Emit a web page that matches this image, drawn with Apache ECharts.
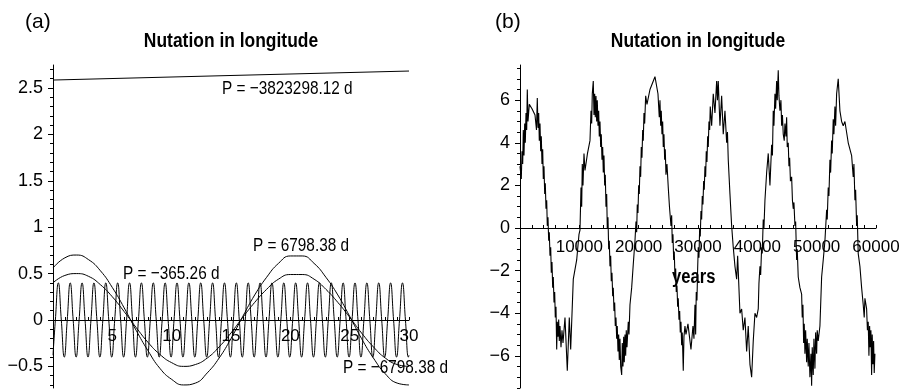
<!DOCTYPE html>
<html><head><meta charset="utf-8">
<script src="https://cdn.jsdelivr.net/npm/echarts@6/dist/echarts.min.js"></script>
<style>html,body{margin:0;padding:0;background:#fff}#c{width:904px;height:390px}</style>
</head><body><div id="c"></div>
<script>
// ---------- Panel (a) data ----------
const slowYears = [0,1,2,3,4,5,6,7,8,9,10,11,12,13,14,15,16,17,18,19,20,21,22,23,24,25,26,27,28,29,30];
const nodalA = [0.56,0.67,0.70,0.65,0.53,0.35,0.13,-0.11,-0.33,-0.52,-0.64,-0.70,-0.68,-0.57,-0.41,-0.20,0.04,0.27,0.46,0.61,0.69,0.69,0.61,0.46,0.27,0.04,-0.20,-0.41,-0.58,-0.68,-0.70];
const nodalB = [0.40,0.48,0.50,0.47,0.38,0.25,0.09,-0.08,-0.24,-0.37,-0.46,-0.50,-0.48,-0.41,-0.29,-0.14,0.03,0.19,0.33,0.44,0.49,0.49,0.44,0.33,0.19,0.03,-0.14,-0.29,-0.41,-0.48,-0.50];
const annualYears = [0,0.2,0.45,0.7,0.95,1.2,1.45,1.7,1.95,2.2,2.45,2.7,2.95,3.2,3.45,3.7,3.95,4.2,4.45,4.7,4.95,5.2,5.45,5.7,5.95,6.2,6.45,6.7,6.95,7.2,7.45,7.7,7.95,8.2,8.45,8.7,8.95,9.2,9.45,9.7,9.95,10.2,10.45,10.7,10.95,11.2,11.45,11.7,11.95,12.2,12.45,12.7,12.95,13.2,13.45,13.7,13.95,14.2,14.45,14.7,14.95,15.2,15.45,15.7,15.95,16.2,16.45,16.7,16.95,17.2,17.45,17.7,17.95,18.2,18.45,18.7,18.95,19.2,19.45,19.7,19.95,20.2,20.45,20.7,20.95,21.2,21.45,21.7,21.95,22.2,22.45,22.7,22.95,23.2,23.45,23.7,23.95,24.2,24.45,24.7,24.95,25.2,25.45,25.7,25.95,26.2,26.45,26.7,26.95,27.2,27.45,27.7,27.95,28.2,28.45,28.7,28.95,29.2,29.45,29.7,29.95,30];
const annualValues = [-0.38,
 0,0.4,0,-0.4, 0,0.4,0,-0.4, 0,0.4,0,-0.4, 0,0.4,0,-0.4, 0,0.4,0,-0.4,
 0,0.4,0,-0.4, 0,0.4,0,-0.4, 0,0.4,0,-0.4, 0,0.4,0,-0.4, 0,0.4,0,-0.4,
 0,0.4,0,-0.4, 0,0.4,0,-0.4, 0,0.4,0,-0.4, 0,0.4,0,-0.4, 0,0.4,0,-0.4,
 0,0.4,0,-0.4, 0,0.4,0,-0.4, 0,0.4,0,-0.4, 0,0.4,0,-0.4, 0,0.4,0,-0.4,
 0,0.4,0,-0.4, 0,0.4,0,-0.4, 0,0.4,0,-0.4, 0,0.4,0,-0.4, 0,0.4,0,-0.4,
 0,0.4,0,-0.4, 0,0.4,0,-0.4, 0,0.4,0,-0.4, 0,0.4,0,-0.4, 0,0.4,0,-0.4,
 -0.38];
const driftYears = [0, 15, 30];
const driftValues = [2.586, 2.635, 2.683];
const leftXTickLabels = [5, 10, 15, 20, 25, 30];
const leftYTickLabels = [-0.5, 0, 0.5, 1, 1.5, 2, 2.5];

// ---------- Panel (b) data ----------
const yrsB = [0,219,337,455,556,674,792,893,1011,1129,
1230,1348,1567,2022,2528,2780,2915,3033,3151,3252,
3370,3488,3589,3707,3825,3926,4044,4162,4263,4381,
4499,4600,4718,4836,4937,5055,5173,5274,5392,5510,
5611,5729,5847,5948,6066,6184,6285,6403,6521,6622,
6740,6909,7077,7246,7583,7970,8307,8543,8981,9554,
9942,10110,10279,10397,10498,10615,10784,10953,11374,11795,
11964,12082,12183,12351,12469,12587,12688,12806,12924,13025,
13143,13261,13362,13480,13598,13699,13817,13935,14036,14154,
14272,14373,14491,14609,14710,14828,14946,15047,15165,15283,
15384,15502,15620,15721,15839,15957,16058,16176,16294,16395,
16513,16631,16732,16850,16968,17137,17238,17356,17474,17575,
17693,17811,17912,18030,18249,18367,18535,18822,19091,19378,
19546,19664,19765,19883,20001,20102,20220,20338,20439,20557,
20675,20776,20894,21012,21180,21400,21905,22748,23253,23472,
23590,23708,23809,23927,24045,24146,24264,24382,24483,24601,
24770,24989,25191,25444,25562,25663,25781,25899,26000,26118,
26236,26337,26455,26573,26674,26792,26910,27011,27129,27247,
27348,27517,27634,27803,27971,28308,28814,29151,29319,29488,
29605,29706,29825,29942,30044,30162,30279,30381,30499,30616,
30718,30836,30953,31055,31173,31290,31392,31510,31627,31729,
31847,31964,32066,32302,32572,32858,33144,33279,33414,33700,
33986,34256,34543,34829,34964,35099,35385,35671,35941,36228,
36514,36682,37070,37356,37626,37913,38199,38468,38755,39041,
39311,39598,39884,40154,40272,40440,40558,40726,40828,40996,
41114,41283,41569,41839,42125,42411,42546,42681,42799,42968,
43085,43254,43355,43524,43642,43810,43979,44096,44231,44366,
44535,44653,44821,44939,45040,45209,45327,45444,45579,45781,
45916,46051,46169,46338,46455,46624,46725,46894,47180,47466,
47568,47686,47803,47905,48023,48140,48309,48410,48579,48697,
48865,49034,49151,49253,49421,49539,49708,49825,49994,50095,
50264,50550,50836,51106,51393,51679,51780,51949,52067,52235,
52353,52521,52623,52791,52909,53078,53195,53364,53634,53920,
54206,54476,54763,55319,55891,56161,56279,56448,56565,56734,
56835,57004,57290,57576,57846,58015,58133,58419,58554,58689,
58807,58924,59026,59144,59261,59363,59481,59598,59700,59818];
const nutB = [2.9,2.3,3.6,3.0,4.6,3.4,4.9,4.0,5.4,4.6,
6.5,5.0,5.8,5.6,5.3,4.6,6.1,4.7,5.4,4.1,
4.9,3.6,4.3,3.0,3.7,2.3,2.9,1.6,2.1,0.9,
1.3,0.1,0.5,-0.6,-0.2,-1.3,-0.9,-2.1,-1.6,-2.8,
-2.3,-3.5,-3.0,-4.2,-3.7,-5.7,-4.4,-5.1,-4.3,-5.3,
-4.6,-5.6,-4.8,-5.4,-4.2,-6.7,-4.2,-5.7,-2.4,-1.5,
-0.3,-0.1,1.9,1.0,3.0,2.0,3.5,2.7,3.5,4.1,
5.5,4.9,6.3,6.9,5.3,6.3,5.2,6.2,5.0,6.0,
4.8,5.5,4.3,5.0,3.8,4.4,3.2,3.8,2.6,3.4,
2.0,2.5,1.0,1.6,0.0,0.5,-1.0,-0.6,-1.8,-1.3,
-2.5,-2.1,-3.2,-2.8,-3.9,-3.5,-4.6,-4.2,-5.2,-4.6,
-5.8,-5.0,-6.2,-5.2,-6.5,-6.9,-5.4,-6.5,-5.1,-6.3,
-5.0,-6.0,-4.8,-5.6,-4.4,-5.0,-3.6,-2.8,-1.7,-0.6,
0.3,-0.2,1.1,0.7,2.0,1.6,2.9,2.4,3.8,3.3,
4.6,4.1,5.4,4.9,6.2,5.8,6.5,7.1,6.3,5.2,
6.0,4.8,5.5,4.4,5.0,3.8,4.4,3.2,3.7,2.5,
3.0,1.9,1.0,0.1,0.6,-0.7,-0.3,-1.5,-1.1,-2.3,
-1.9,-3.0,-2.7,-3.7,-3.3,-4.3,-3.9,-4.9,-4.4,-5.5,
-4.9,-6.7,-5.1,-4.6,-5.0,-4.5,-5.7,-4.6,-5.2,-3.6,
-5.0,-3.0,-3.4,-1.9,-0.9,-1.4,0.0,-0.4,0.8,0.4,
1.5,1.1,2.2,1.8,2.9,2.4,3.6,3.1,4.3,3.8,
5.0,4.6,5.7,4.8,6.3,5.4,6.9,6.0,6.9,4.8,
6.2,4.4,5.5,4.0,4.5,3.2,1.6,0.1,-0.9,-1.8,
-2.4,-1.3,-4.0,-3.8,-4.8,-4.2,-5.8,-4.6,-6.4,-7.0,
-5.3,-4.0,-4.2,-3.8,-2.6,-1.8,-2.2,-0.9,-1.2,0.4,
0.0,1.3,2.6,3.5,2.0,3.9,3.4,5.5,4.8,6.3,
5.6,6.9,6.0,7.4,6.2,5.5,6.0,4.8,5.3,4.4,
4.1,4.9,4.3,5.2,3.8,4.0,2.9,3.3,2.2,2.4,
1.3,0.9,1.2,0.1,0.3,-1.5,-1.0,-2.3,-2.8,-3.1,
-4.2,-3.6,-5.4,-4.5,-5.9,-4.8,-6.3,-5.2,-6.5,-5.4,
-7.0,-5.9,-7.4,-5.6,-6.9,-5.2,-6.6,-4.9,-5.9,-4.8,
-5.3,-4.6,-2.3,-1.5,-0.6,0.85,0.4,1.9,1.5,3.2,
2.6,4.1,3.5,5.1,4.4,5.7,4.8,6.3,7.0,5.5,
5.0,4.8,5.0,4.0,3.4,2.4,3.0,1.3,1.8,0.1,
0.6,-1.2,-1.8,-2.8,-3.6,-4.2,-3.3,-3.8,-4.8,-4.4,
-6.0,-4.6,-5.6,-4.8,-6.9,-5.0,-6.4,-5.3,-6.8,-5.9];
const rightXTickLabels = [10000, 20000, 30000, 40000, 50000, 60000];
const rightYTickLabels = [-6, -4, -2, 0, 2, 4, 6];

if (yrsB.length !== nutB.length) throw new Error('B length mismatch ' + yrsB.length + ' ' + nutB.length);
if (annualYears.length !== annualValues.length) throw new Error('annual mismatch ' + annualYears.length + ' ' + annualValues.length);

const zip = (xs, ys) => xs.map((x, i) => [x, ys[i]]);
const REG = "'Liberation Sans',Arial,sans-serif";
const minus = v => String(v).replace('-', '\u2212');

const leftMinor = []; for (let k = -7; k <= 27; k++) leftMinor.push(k / 10);
const rightMinor = []; for (let k = -15; k <= 15; k++) rightMinor.push(k / 2);
const leftXTicks = []; for (let k = 1; k <= 30; k++) leftXTicks.push(k);
const rightXTicks = []; for (let k = 1; k <= 30; k++) rightXTicks.push(k * 2000);

// grid geometry (pixels)
const GT = 65, GH = 323;
const LY = [-0.733, 2.748], RY = [-7.51, 7.65];
// pixel distance from the grid bottom up to the value 0 of each y axis
const zeroOffset = r => -GH * (-r[0]) / (r[1] - r[0]);

const black = '#000';
function xAx(grid, min, max, ticks, labels, yr, margin) {
  return {
    type: 'value', gridIndex: grid, min, max, position: 'bottom', offset: zeroOffset(yr),
    axisLine: { show: true, onZero: false, lineStyle: { color: black, width: 1 } },
    axisTick: { show: true, inside: true, length: 3, customValues: ticks, lineStyle: { color: black, width: 1 } },
    axisLabel: { show: true, customValues: labels, color: black, fontFamily: REG, fontSize: 17, margin,
      formatter: v => String(v) },
    splitLine: { show: false }
  };
}
function yMain(grid, min, max, labels, margin) {
  return {
    type: 'value', gridIndex: grid, min, max, position: 'left',
    axisLine: { show: true, onZero: false, lineStyle: { color: black, width: 1 } },
    axisTick: { show: true, inside: false, length: 5, customValues: labels, lineStyle: { color: black, width: 1 } },
    axisLabel: { show: true, customValues: labels, color: black, fontFamily: REG, fontSize: 18, margin, formatter: v => minus(v) },
    splitLine: { show: false }
  };
}
function yMinor(grid, min, max, ticks) {
  return {
    type: 'value', gridIndex: grid, min, max, position: 'left', offset: 0,
    axisLine: { show: false, onZero: false },
    axisTick: { show: true, inside: false, length: 3, customValues: ticks, lineStyle: { color: black, width: 1 } },
    axisLabel: { show: false },
    splitLine: { show: false }
  };
}
const lineSeries = (data, xi, yi, smooth, width) => ({
  type: 'line', data, xAxisIndex: xi, yAxisIndex: yi, showSymbol: false, symbol: 'none',
  smooth, lineStyle: { color: black, width }, silent: true, animation: false
});
const txt = (x, y, text, size, weight, align, sx) => ({
  type: 'text', x, y, scaleX: sx || 1,
  style: { text, fill: black, font: `${weight} ${size}px ${REG}`, textAlign: align || 'left', textVerticalAlign: 'middle' }
});

const chart = echarts.init(document.getElementById('c'), null, { renderer: 'canvas' });
chart.setOption({
  animation: false,
  backgroundColor: '#fff',
  grid: [
    { left: 53, top: GT, width: 356, height: GH, outerBoundsMode: 'none', containLabel: false },
    { left: 520, top: GT, width: 356, height: GH, outerBoundsMode: 'none', containLabel: false }
  ],
  xAxis: [
    xAx(0, 0, 30, leftXTicks, leftXTickLabels, LY, 8),
    xAx(1, 0, 60000, rightXTicks, rightXTickLabels, RY, 11)
  ],
  yAxis: [
    yMain(0, LY[0], LY[1], leftYTickLabels, 10),
    yMinor(0, LY[0], LY[1], leftMinor),
    yMain(1, RY[0], RY[1], rightYTickLabels, 10),
    yMinor(1, RY[0], RY[1], rightMinor)
  ],
  series: [
    lineSeries(zip(driftYears, driftValues), 0, 0, false, 1),
    lineSeries(zip(slowYears, nodalA), 0, 0, true, 1),
    lineSeries(zip(slowYears, nodalB), 0, 0, true, 1),
    lineSeries(zip(annualYears, annualValues), 0, 0, 0.5, 1),
    lineSeries(zip(yrsB, nutB), 1, 2, false, 1.1)
  ],
  graphic: [
    txt(25, 22, '(a)', 21, 'normal'),
    txt(495, 22, '(b)', 21, 'normal'),
    txt(231, 41, 'Nutation in longitude', 21, 'bold', 'center', 0.83),
    txt(698, 41, 'Nutation in longitude', 21, 'bold', 'center', 0.83),
    txt(222, 89, 'P = \u22123823298.12 d', 18.5, 'normal', 'left', 0.83),
    txt(123, 274, 'P = \u2212365.26 d', 18.5, 'normal', 'left', 0.83),
    txt(253, 246, 'P = 6798.38 d', 18.5, 'normal', 'left', 0.83),
    txt(343, 368, 'P = \u22126798.38 d', 18.5, 'normal', 'left', 0.83),
    txt(672, 277, 'years', 20, 'bold', 'left', 0.83)
  ]
});
</script></body></html>
